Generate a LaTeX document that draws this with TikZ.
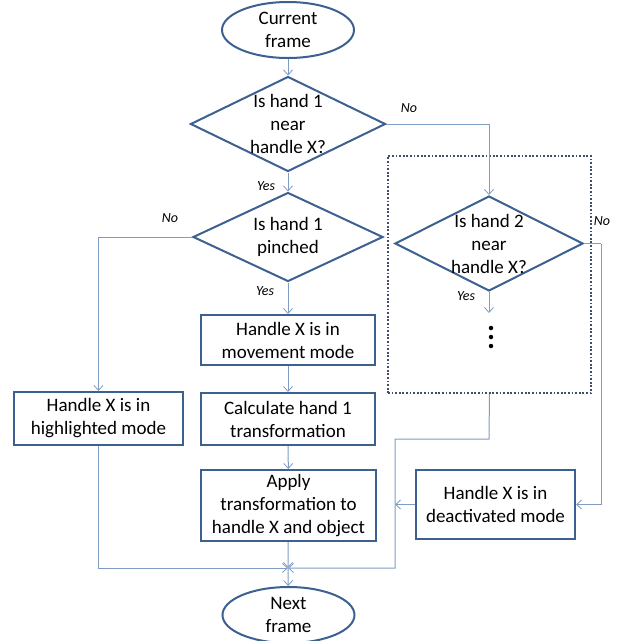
\documentclass[tikz,border=0pt]{standalone}
\usepackage{fontspec}
\setmainfont{Carlito}
\usetikzlibrary{shapes.geometric,arrows.meta}
\definecolor{nodeblue}{HTML}{3C6190}
\definecolor{lineblue}{HTML}{7F9CC4}
\definecolor{dotgray}{HTML}{3E4E6C}
\begin{document}
\begin{tikzpicture}[x=1pt,y=-1pt,
  every node/.style={font=\fontsize{19}{23}\selectfont},
  term/.style={ellipse,draw=nodeblue,line width=2pt,inner sep=0pt,minimum width=132pt,minimum height=56pt,align=center},
  dia/.style={diamond,draw=nodeblue,line width=2pt,inner sep=0pt},
  dtext/.style={align=center,inner sep=0pt},
  procbox/.style={rectangle,draw=nodeblue,line width=2pt,inner sep=0pt,align=center},
  grpbox/.style={rectangle,draw=dotgray,line width=1.8pt,dash pattern=on 1.8pt off 1.8pt,inner sep=0pt},
  conn/.style={draw=lineblue,line width=1pt},
  arr/.style={conn,-{Straight Barb[length=5pt,width=9pt,line width=0.8pt]}},
  lbl/.style={font=\fontsize{14}{16}\selectfont\itshape,inner sep=0pt}
]
\useasboundingbox (0,0) rectangle (626,641);
% nodes
\node[term] (start) at (288,30) {Current\\frame};
\node[dia,minimum width=195pt,minimum height=95pt] (d1) at (288,124) {};
\node[dtext] at (d1) {Is hand 1\\near\\handle X?};
\node[grpbox,minimum width=203pt,minimum height=237pt] (grp) at (489.5,274.5) {};
\node[dia,minimum width=188pt,minimum height=95pt] (d2) at (489,243.5) {};
\node[dtext] at (d2) {Is hand 2\\near\\handle X?};
\node[dia,minimum width=190pt,minimum height=89pt] (d3) at (288,237) {};
\node[dtext] at (d3) {Is hand 1\\pinched};
\node[procbox,minimum width=174pt,minimum height=50pt] (move) at (288,340) {Handle X is in\\movement mode};
\node[procbox,minimum width=169pt,minimum height=53pt] (high) at (98.5,418.5) {Handle X is in\\highlighted mode};
\node[procbox,minimum width=174pt,minimum height=52pt] (calc) at (288,419) {Calculate hand 1\\transformation};
\node[procbox,minimum width=175pt,minimum height=71pt] (apply) at (288.5,505.5) {Apply\\transformation to\\handle X and object};
\node[procbox,minimum width=159pt,minimum height=69pt] (deact) at (495.5,504.5) {Handle X is in\\deactivated mode};
\node[term] (stop) at (288.5,615) {Next\\frame};
% dots
\node[circle,fill=black,inner sep=0pt,minimum size=4.5pt] (dotA) at (491,328) {};
\node[circle,fill=black,inner sep=0pt,minimum size=4.5pt] (dotB) at (491,337) {};
\node[circle,fill=black,inner sep=0pt,minimum size=4.5pt] (dotC) at (491,346) {};
% coordinates
\coordinate (join) at (288,568);
\coordinate (d2end) at (489,313);
\coordinate (bend1) at (489,439);
\coordinate (bend2) at (395,439);
\coordinate (bend3) at (395,568);
\coordinate (rside) at (601,243.5);
% connectors
\draw[arr] (start) -- (d1);
\draw[arr] (d1.east) -| (d2.north);
\draw[arr] (d1) -- (d3);
\draw[arr] (d3) -- (move);
\draw[arr] (d3.west) -| (high.north);
\draw[arr] (move) -- (calc);
\draw[arr] (calc) -- (apply);
\draw[arr] (d2) -- (d2end);
\draw[conn] (d2.east) -- (rside);
\draw[arr] (rside) |- (deact.east);
\draw[arr] (grp.south) -- (bend1) -- (bend2) -- (bend3) -- (join);
\draw[arr] (deact.west) -- (bend2 |- deact.west);
\draw[arr] (high.south) |- (join);
\draw[arr] (apply) -- (join);
\draw[arr] (join) -- (stop);
% labels
\node[lbl] at (409,108) {No};
\node[lbl] at (266,186) {Yes};
\node[lbl] at (170,218) {No};
\node[lbl] at (265,291) {Yes};
\node[lbl] at (602,221) {No};
\node[lbl] at (466,296) {Yes};
\end{tikzpicture}
\end{document}
